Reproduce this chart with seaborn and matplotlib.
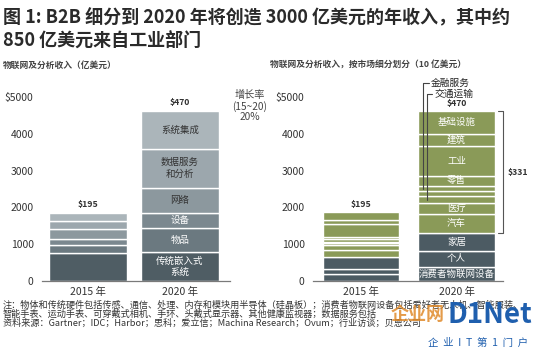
import matplotlib
matplotlib.use("Agg")
import matplotlib.pyplot as plt
import seaborn as sns
import pandas as pd
import numpy as np

# ---------------- data ----------------
years = ["2015 年", "2020 年"]

left_segments = ["传统嵌入式系统", "物品", "设备", "网络", "数据服务和分析", "系统集成"]
left_labels = ["传统嵌入式\n系统", "物品", "设备", "网络", "数据服务\n和分析", "系统集成"]
left_2015 = [770, 208, 171, 262, 227, 217]
left_2020 = [778, 651, 425, 678, 1067, 1012]
left_totals = ["$195", "$470"]

right_segments = ["消费者物联网设备", "个人", "家居", "汽车", "医疗", "交通运输",
                  "其他", "金融服务", "零售", "工业", "建筑", "基础设施"]
right_2015 = [191, 136, 319, 204, 131, 59, 31, 65, 71, 338, 117, 226]
right_2020 = [390, 427, 483, 526, 291, 180, 136, 156, 272, 798, 338, 616]
right_totals = ["$195", "$470"]
right_bracket_label = "$331"
callout_segments = ["金融服务", "交通运输"]

yticks = [0, 1000, 2000, 3000, 4000, 5000]
ytick_labels = ["0", "1000", "2000", "3000", "4000", "$5000"]

title_lines = ["图 1: B2B 细分到 2020 年将创造 3000 亿美元的年收入，其中约",
               "850 亿美元来自工业部门"]
left_subtitle = "物联网及分析收入（亿美元）"
right_subtitle = "物联网及分析收入，按市场细分划分（10 亿美元）"
growth_text = "增长率\n(15~20)\n20%"
notes = ["注：物体和传统硬件包括传感、通信、处理、内存和模块用半导体（硅晶板）；消费者物联网设备包括爱好者无人机、智能服装、",
         "智能手表、运动手表、可穿戴式相机、手环、头戴式显示器、其他健康监视器；数据服务包括",
         "资料来源：Gartner；IDC；Harbor；思科；爱立信；Machina Research；Ovum；行业访谈；贝恩公司"]

# ---------------- style ----------------
left_colors = ["#4f5d64", "#6b7980", "#7b888f", "#8c989e", "#9ca7ad", "#abb5ba"]
left_text_colors = ["white", "white", "white", "#333333", "#333333", "#333333"]
DARK = "#4c5b63"
OLIVE = "#8a9a58"
right_colors = [DARK] * 3 + [OLIVE] * 9

sns.set_style("white")
plt.rcParams["font.family"] = ["Noto Sans CJK SC", "DejaVu Sans"]

W, H = 533, 353
fig = plt.figure(figsize=(W / 100, H / 100), dpi=100)


def fx(px):
    return px / W


def fy(py):
    return 1 - py / H


def stacked(ax, segments, v2015, v2020, colors, width):
    df = pd.DataFrame({"segment": np.repeat(segments, 2),
                       "year": years * len(segments),
                       "value": np.ravel(np.column_stack([v2015, v2020]))})
    bottoms = np.zeros(2)
    for seg, col in zip(segments, colors):
        sub = df[df["segment"] == seg]
        sns.barplot(data=sub, x="year", y="value", order=years, color=col,
                    width=width, bottom=bottoms.copy(), errorbar=None,
                    edgecolor="white", linewidth=1.0, saturation=1, ax=ax)
        bottoms += sub["value"].to_numpy()
    return bottoms


def style_axes(ax, xlim):
    ax.set_xlim(*xlim)
    ax.set_ylim(0, 5000)
    ax.set_yticks(yticks)
    ax.set_yticklabels(ytick_labels)
    ax.set_xlabel("")
    ax.set_ylabel("")
    for s in ["top", "right", "left"]:
        ax.spines[s].set_visible(False)
    ax.spines["bottom"].set_color("#7a7a7a")
    ax.spines["bottom"].set_linewidth(0.9)
    ax.tick_params(axis="y", length=0, pad=6, labelsize=7.5, labelcolor="#333333")
    ax.tick_params(axis="x", length=0, pad=4, labelsize=7.5, labelcolor="#333333")


# ---------------- left chart ----------------
axL = fig.add_axes([fx(42), fy(281), fx(230) - fx(42), fy(97) - fy(281)])
totL = stacked(axL, left_segments, left_2015, left_2020, left_colors, 0.85)
style_axes(axL, (-0.5, 1.543))
cum = np.cumsum([0] + left_2020)
for i, lab in enumerate(left_labels):
    axL.text(1, (cum[i] + cum[i + 1]) / 2, lab, ha="center", va="center",
             fontsize=6.8, color=left_text_colors[i], linespacing=1.3)
for i, t in enumerate(left_totals):
    axL.annotate(t, (i, totL[i]), xytext=(0, 3), textcoords="offset points",
                 ha="center", va="bottom", fontsize=6.3, fontweight="bold",
                 color="#333333", annotation_clip=False)

# ---------------- right chart ----------------
axR = fig.add_axes([fx(313), fy(281), fx(503) - fx(313), fy(97) - fy(281)])
totR = stacked(axR, right_segments, right_2015, right_2020, right_colors, 0.8)
style_axes(axR, (-0.503, 1.487))
cumR = np.cumsum([0] + right_2020)
for i, seg in enumerate(right_segments):
    if seg in callout_segments or seg == "其他":
        continue
    axR.text(1, (cumR[i] + cumR[i + 1]) / 2, seg, ha="center", va="center",
             fontsize=6.8, color="white")
for i, t in enumerate(right_totals):
    axR.annotate(t, (i, totR[i]), xytext=(0, 2), textcoords="offset points",
                 ha="center", va="bottom", fontsize=6.3, fontweight="bold",
                 color="#333333", annotation_clip=False)

# callout leader lines
callout_cfg = {"金融服务": (0.649, 5393), "交通运输": (0.686, 5093)}
for seg in callout_segments:
    i = right_segments.index(seg)
    xline, ylab = callout_cfg[seg]
    ymid = (cumR[i] + cumR[i + 1]) / 2
    axR.plot([xline + 0.06, xline, xline], [ylab, ylab, ymid], color="#444444",
             lw=0.8, clip_on=False)
    axR.text(xline + 0.085, ylab, seg, ha="left", va="center", fontsize=7,
             color="#222222", clip_on=False)

# bracket for B2B total
olive_lo = cumR[3]
olive_hi = cumR[-1]
bx = 1.487
axR.plot([bx - 0.05, bx, bx, bx - 0.05], [olive_hi, olive_hi, olive_lo, olive_lo],
         color="#555555", lw=0.8, clip_on=False)
axR.text(bx + 0.16, (olive_lo + olive_hi) / 2, right_bracket_label, ha="center",
         va="center", fontsize=6.3, fontweight="bold", color="#333333")

# ---------------- texts ----------------
fig.text(fx(3), fy(18), title_lines[0], ha="left", va="center", fontsize=13,
         fontweight="bold", color="#2a2a2a")
fig.text(fx(3), fy(40), title_lines[1], ha="left", va="center", fontsize=13,
         fontweight="bold", color="#2a2a2a")
fig.text(fx(3), fy(65), left_subtitle, ha="left", va="center", fontsize=6.3,
         fontweight="bold", color="#444444")
fig.text(fx(270), fy(65), right_subtitle, ha="left", va="center", fontsize=6.3,
         fontweight="bold", color="#444444")
fig.text(fx(250), fy(106), growth_text, ha="center", va="center", fontsize=7.3,
         color="#444444", linespacing=1.05)
for k, line in enumerate(notes):
    fig.text(fx(3), fy(305 + 9 * k), line, ha="left", va="center", fontsize=6.6,
             color="#333333")

# watermark
fig.text(fx(418), fy(315), "企业网", ha="center", va="center", fontsize=13,
         fontweight="bold", color="#e08a2a", alpha=0.85)
fig.text(fx(490), fy(315), "D1Net", ha="center", va="center", fontsize=20,
         fontweight="bold", color="#1f5fae")
fig.text(fx(478), fy(343), "企  业  I  T  第  1  门  户", ha="center",
         va="center", fontsize=7.5, color="#1f5fae")

fig.savefig("out.png", dpi=100)
